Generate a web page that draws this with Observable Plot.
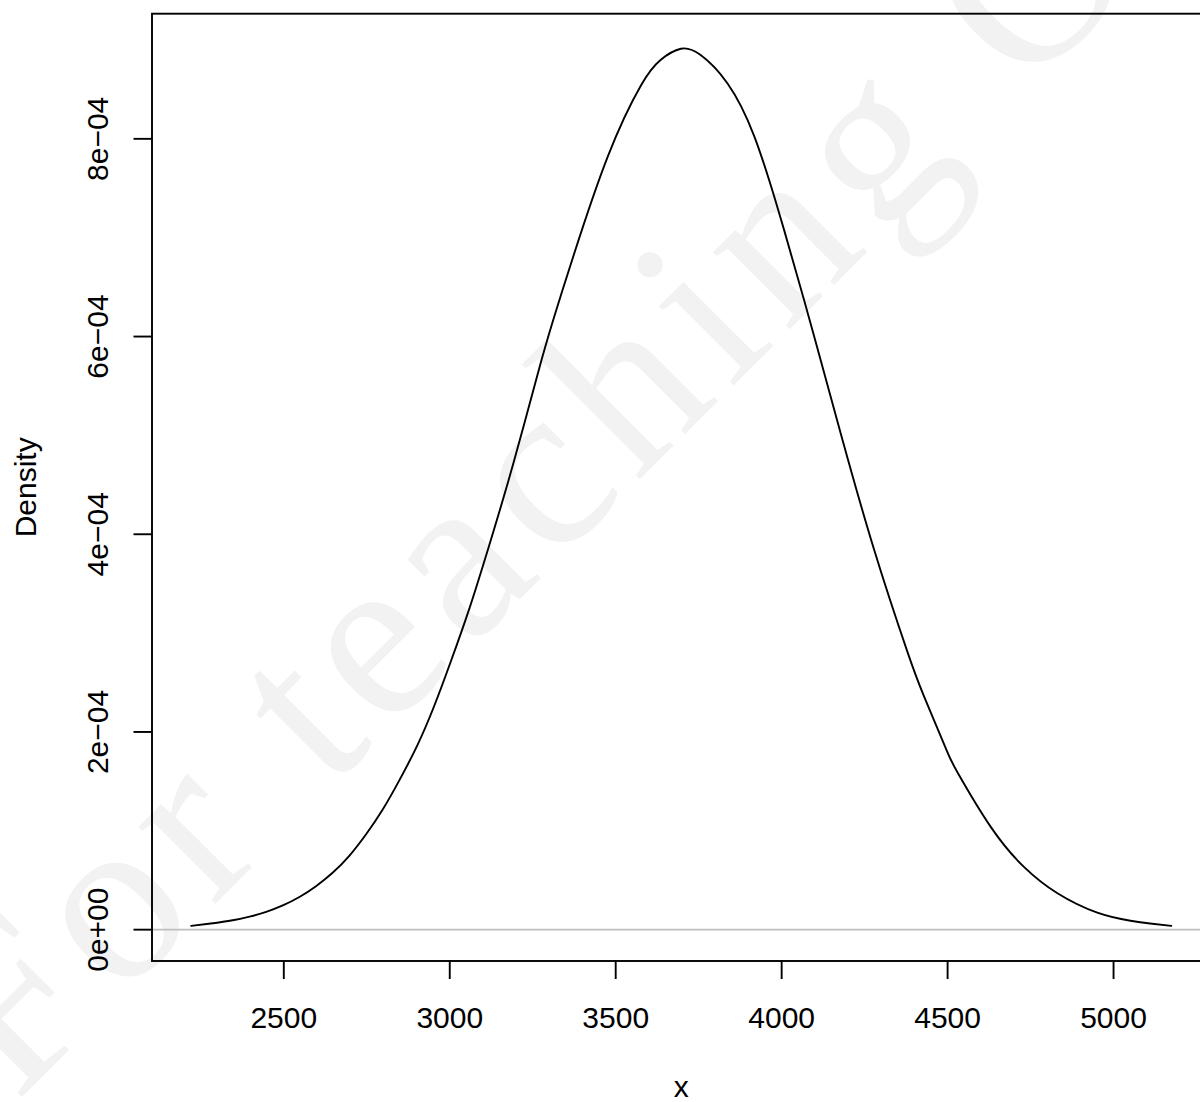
<!DOCTYPE html>
<html>
<head>
<meta charset="utf-8">
<script src="https://cdn.jsdelivr.net/npm/d3@7"></script>
<script src="https://cdn.jsdelivr.net/npm/@observablehq/plot@0.6"></script>
<style>
  html, body { margin: 0; padding: 0; background: #ffffff; overflow: hidden; width: 1200px; height: 1102px; }
  #wrap { position: relative; width: 1200px; height: 1102px; overflow: hidden; background: #ffffff; }
  #wm { position: absolute; left: 0; top: 0; }
  #chart { position: absolute; left: 0; top: 0; }
</style>
</head>
<body>
<div id="wrap">
  <svg id="wm" width="1200" height="1102">
    <text x="16" y="1103" transform="rotate(-45 16 1103)" font-family="Liberation Serif, Times New Roman, serif"
          font-size="237" fill="#f2f2f2" textLength="1940" lengthAdjust="spacing">For teaching Only</text>
  </svg>
  <div id="chart"></div>
</div>
<script>
// Curve points (x, density)
const xValues = [2221, 2280, 2346, 2400, 2447, 2497, 2547, 2597, 2647, 2698, 2748, 2798, 2848, 2903, 2954, 3004, 3060,
                 3119, 3194, 3275, 3330, 3375, 3476, 3576, 3636, 3696, 3755, 3837, 3917, 3995, 4068, 4116, 4178, 4278,
                 4379, 4429, 4494, 4530, 4630, 4730, 4831, 4951, 5051, 5110, 5174];
const densityValues = [0.038e-4, 0.062e-4, 0.095e-4, 0.135e-4, 0.180e-4, 0.245e-4, 0.330e-4, 0.440e-4, 0.575e-4,
                       0.750e-4, 0.965e-4, 1.215e-4, 1.510e-4, 1.870e-4, 2.270e-4, 2.720e-4, 3.258e-4,
                       3.889e-4, 4.745e-4, 5.745e-4, 6.365e-4, 6.840e-4, 7.820e-4, 8.540e-4, 8.800e-4, 8.911e-4,
                       8.850e-4, 8.560e-4, 8.030e-4, 7.220e-4, 6.365e-4, 5.780e-4, 5.020e-4, 3.850e-4,
                       2.810e-4, 2.360e-4, 1.840e-4, 1.590e-4, 1.040e-4, 0.635e-4, 0.368e-4, 0.172e-4, 0.090e-4,
                       0.062e-4, 0.038e-4];
const xTicks = [2500, 3000, 3500, 4000, 4500, 5000];
const yTicks = [0, 2e-4, 4e-4, 6e-4, 8e-4];
const yTickLabels = ["0e+00", "2e\u221204", "4e\u221204", "6e\u221204", "8e\u221204"];
const xTitle = ["x"];
const yTitle = ["Density"];

const points = xValues.map((x, i) => ({x, y: densityValues[i]}));

// R-style 4% axis expansion
function expand(ext) { const d = (ext[1] - ext[0]) * 0.04; return [ext[0] - d, ext[1] + d]; }
const xDomain = expand(d3.extent(xValues));
const yDomain = expand(d3.extent(densityValues));

const font = "Liberation Sans, Arial, Helvetica, sans-serif";
const lw = 1.9;

const chart = Plot.plot({
  width: 1212,
  height: 1102,
  marginLeft: 151.5,
  marginRight: 2,
  marginTop: 13.2,
  marginBottom: 141.5,
  style: {fontFamily: font, fontSize: "30px", background: "transparent", maxWidth: "none", color: "black", overflow: "visible"},
  x: {domain: xDomain, label: null},
  y: {domain: yDomain, label: null},
  marks: [
    Plot.ruleY([0], {stroke: "#bebebe", strokeWidth: lw}),
    Plot.line(points, {x: "x", y: "y", curve: "natural", stroke: "black", strokeWidth: lw}),
    Plot.frame({stroke: "black", strokeWidth: lw}),
    Plot.axisX(xTicks, {tickSize: 18.5, tickPadding: 27.5, strokeWidth: lw, fontSize: 30, label: null,
                        tickFormat: d3.format("d"), fontFamily: font}),
    Plot.axisY(yTicks, {tickSize: 18, strokeWidth: lw, label: null, tickFormat: () => ""}),
    Plot.text(yTicks, {y: d => d, text: (d, i) => yTickLabels[i], frameAnchor: "left", dx: -43.7, rotate: -90,
                       lineAnchor: "bottom", textAnchor: "middle", fontSize: 30, fontFamily: font, fill: "black"}),
    Plot.text(yTitle, {text: d => d, frameAnchor: "left", dx: -116.5, rotate: -90, lineAnchor: "bottom",
                       textAnchor: "middle", fontSize: 30, fontFamily: font, fill: "black"}),
    Plot.text(xTitle, {text: d => d, frameAnchor: "bottom", dy: 135.5, lineAnchor: "bottom",
                       textAnchor: "middle", fontSize: 30, fontFamily: font, fill: "black"})
  ]
});
document.getElementById("chart").appendChild(chart);
</script>
</body>
</html>
